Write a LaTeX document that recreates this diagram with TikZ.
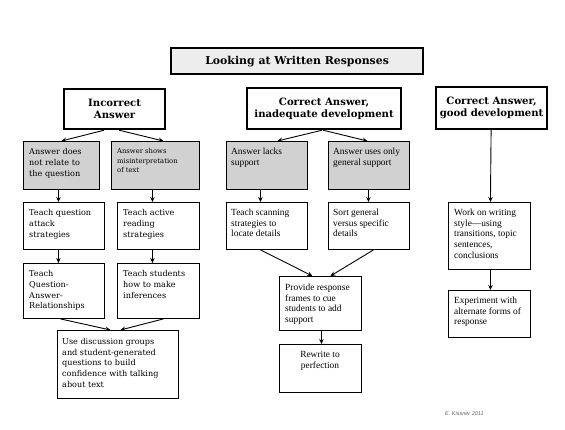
\documentclass[tikz,border=0pt]{standalone}
\usepackage{fontspec}
\setmainfont{Liberation Serif}
\newfontfamily\hdfont{DejaVu Serif}
\newfontfamily\bkfont{DejaVu Serif}
\newfontfamily\sigfont{Liberation Sans}
\usetikzlibrary{arrows.meta}
\definecolor{boxgray}{gray}{0.82}
\definecolor{titlegray}{gray}{0.93}
\tikzset{
  box/.style={draw=black, line width=0.9pt, inner sep=0pt, anchor=north west},
  graybox/.style={box, fill=boxgray},
  headbox/.style={draw=black, line width=2.2pt, inner sep=0pt, anchor=north west, fill=white,
    align=center, font=\hdfont\bfseries\fontsize{10.1}{11.8}\selectfont},
  titlebox/.style={headbox, fill=titlegray, font=\hdfont\bfseries\fontsize{10.9}{12}\selectfont},
  txtA/.style={anchor=north west, inner sep=0pt, align=left, font=\bkfont\fontsize{8.1}{10.7}\selectfont},
  txtS/.style={anchor=north west, inner sep=0pt, align=left, font=\bkfont\fontsize{6.8}{9.7}\selectfont},
  txtB/.style={anchor=north west, inner sep=0pt, align=left, font=\fontsize{9.4}{10.6}\selectfont},
  arr/.style={-{Stealth[length=5pt,width=4.5pt]}, line width=0.9pt},
}
\newcommand\fbx[6]{%
  \node[#1, minimum width={(#5-#3)*1pt}, minimum height={(#6-#4)*1pt}] (#2) at (#3,#4) {};}
\newcommand\hbx[7]{%
  \node[#1, minimum width={(#5-#3)*1pt}, minimum height={(#6-#4)*1pt}] (#2) at (#3,#4) {#7};}
\begin{document}
\begin{tikzpicture}[x=1pt, y=-1pt]
\useasboundingbox[fill=white] (0,0) rectangle (565,430);
% title and headings
\hbx{titlebox}{title}{170}{47}{422}{73}{Looking at Written Responses}
\hbx{headbox}{inc}{63}{88}{164}{128}{Incorrect\\Answer}
\hbx{headbox}{cia}{246}{87}{400}{128}{Correct Answer,\\inadequate development}
\hbx{headbox}{cgd}{435}{86}{546}{128}{Correct Answer,\\good development}
% gray boxes
\fbx{graybox}{ga}{23}{141}{99}{189}
\fbx{graybox}{gb}{111}{141}{199}{189}
\fbx{graybox}{gc}{226}{141}{307}{189}
\fbx{graybox}{gd}{328}{141}{409}{189}
% white boxes
\fbx{box}{ta}{23}{202}{104}{249}
\fbx{box}{tb}{117}{202}{199}{249}
\fbx{box}{tc}{226}{202}{307}{249}
\fbx{box}{td}{328}{202}{409}{249}
\fbx{box}{te}{448}{202}{530}{269}
\fbx{box}{qa}{23}{263}{104}{318}
\fbx{box}{qb}{117}{263}{199}{318}
\fbx{box}{disc}{57}{330}{178}{398}
\fbx{box}{prov}{279}{276}{361}{330}
\fbx{box}{rew}{279}{344}{361}{392}
\fbx{box}{exp}{448}{290}{530}{337}
% texts
\node[txtA] (xga) at (29,148.5) {Answer does\\not relate to\\the question};
\node[txtS] (xgb) at (117,148) {Answer shows\\misinterpretation\\of text};
\node[txtB] (xgc) at (231,148) {Answer lacks\\support};
\node[txtB] (xgd) at (333,148) {Answer uses only\\general support};
\node[txtA] (xta) at (29,209.5) {Teach question\\attack\\strategies};
\node[txtA] (xtb) at (123,209.5) {Teach active\\reading\\strategies};
\node[txtB] (xtc) at (231,209) {Teach scanning\\strategies to\\locate details};
\node[txtB] (xtd) at (333,209) {Sort general\\versus specific\\details};
\node[txtB] (xte) at (454,209) {Work on writing\\style---using\\transitions, topic\\sentences,\\conclusions};
\node[txtA] (xqa) at (29,270.5) {Teach\\Question-\\Answer-\\Relationships};
\node[txtA] (xqb) at (123,270.5) {Teach students\\how to make\\inferences};
\node[txtA] (xdisc) at (62,338) {Use discussion groups\\and student-generated\\questions to build\\confidence with talking\\about text};
\node[txtB] (xprov) at (285,284) {Provide response\\frames to cue\\students to add\\support};
\node[txtB, align=center, anchor=north] (xrew) at (320,351) {Rewrite to\\perfection};
\node[txtB] (xexp) at (454,297) {Experiment with\\alternate forms of\\response};
\node[font=\sigfont\itshape\fontsize{5.5}{6}\selectfont, text=black!60, anchor=west, inner sep=0pt] (sig) at (445,414) {E. Kissner 2011};
% arrows
\draw[arr] ([xshift=-10.5pt]inc.south) -- ([xshift=0pt]ga.north);
\draw[arr] ([xshift=4.5pt]inc.south) -- ([xshift=8pt]gb.north);
\draw[arr] ([xshift=-2pt]cia.south) -- ([xshift=10.5pt]gc.north);
\draw[arr] ([xshift=-1pt]cia.south) -- ([xshift=-1.5pt]gd.north);
\draw[arr] ([xshift=-0.5pt]cgd.south) -- ([xshift=1pt]te.north);
\draw[arr] ([xshift=-3pt]ga.south) -- ([xshift=-5.5pt]ta.north);
\draw[arr] ([xshift=-3pt]gb.south) -- ([xshift=-6pt]tb.north);
\draw[arr] ([xshift=-6.5pt]gc.south) -- ([xshift=-6.5pt]tc.north);
\draw[arr] ([xshift=-0.5pt]gd.south) -- ([xshift=-0.5pt]td.north);
\draw[arr] ([xshift=-5.5pt]ta.south) -- ([xshift=-5.5pt]qa.north);
\draw[arr] ([xshift=-6pt]tb.south) -- ([xshift=-6pt]qb.north);
\draw[arr] ([xshift=-3.5pt]qa.south) -- ([xshift=-7.5pt]disc.north);
\draw[arr] ([xshift=5pt]qb.south) -- ([xshift=2.5pt]disc.north);
\draw[arr] ([xshift=-6.5pt]tc.south) -- ([xshift=-8pt]prov.north);
\draw[arr] ([xshift=4.5pt]td.south) -- ([xshift=10pt]prov.north);
\draw[arr] ([xshift=1pt]prov.south) -- ([xshift=1pt]rew.north);
\draw[arr] ([xshift=1pt]te.south) -- ([xshift=1pt]exp.north);
\end{tikzpicture}
\end{document}
